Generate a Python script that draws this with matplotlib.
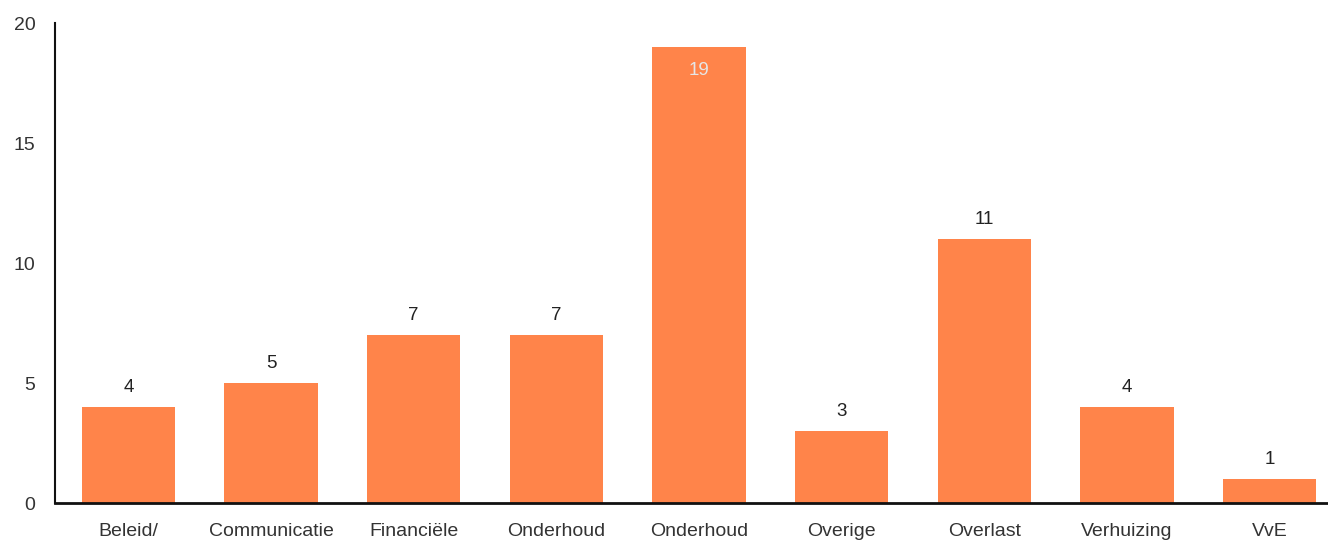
import matplotlib.pyplot as plt

categories = ["Beleid/", "Communicatie", "Financiële", "Onderhoud", "Onderhoud",
              "Overige", "Overlast", "Verhuizing", "VvE"]
values = [4, 5, 7, 7, 19, 3, 11, 4, 1]
yticks = [0, 5, 10, 15, 20]

plt.rcParams['font.family'] = ['Liberation Sans', 'DejaVu Sans']

fig = plt.figure(figsize=(13.28, 5.41), dpi=100)
ax = fig.add_axes([0.0414, 0.0702, 0.9586, 0.887])

x = list(range(len(categories)))
bars = ax.bar(x, values, width=0.655, color="#FF844A")

# value labels: above the bar, inside for the tallest one
for xi, v in zip(x, values):
    if v == max(values):
        ax.annotate(str(v), (xi, v), xytext=(0, -17), textcoords="offset points",
                    ha="center", va="center", fontsize=13.5, color="#e6e6e6")
    else:
        ax.annotate(str(v), (xi, v), xytext=(0, 14), textcoords="offset points",
                    ha="center", va="center", fontsize=13.5, color="#222222")

ax.set_ylim(0, 20)
ax.set_xlim(-0.515, 8.41)
ax.set_yticks(yticks)
ax.set_xticks(x)
ax.set_xticklabels(categories)
ax.tick_params(axis="y", length=0, pad=14, labelsize=14, labelcolor="#333333")
ax.tick_params(axis="x", length=0, pad=14.5, labelsize=14, labelcolor="#333333")

for s in ["top", "right"]:
    ax.spines[s].set_visible(False)
ax.spines["left"].set_linewidth(1.5)
ax.spines["bottom"].set_linewidth(2)
ax.spines["left"].set_color("#111111")
ax.spines["bottom"].set_color("#111111")

fig.savefig("out.png", dpi=100)
